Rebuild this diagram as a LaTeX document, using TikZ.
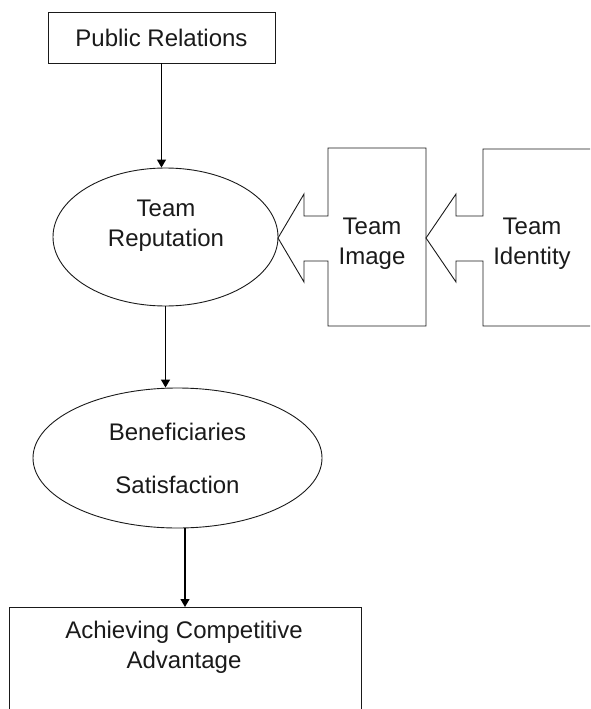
\documentclass[tikz,border=0pt]{standalone}
\usepackage{fontspec}
\setmainfont{Liberation Sans}
\usetikzlibrary{arrows.meta,shapes.geometric,calc}
\definecolor{ink}{HTML}{1A1A1A}
\begin{document}
\begin{tikzpicture}[x=1pt,y=-1pt,
  every node/.style={font=\fontsize{24}{30}\selectfont, text=ink},
  boxnode/.style={draw=ink, line width=0.9pt, rectangle, inner sep=0pt},
  ellnode/.style={draw=ink, line width=0.9pt, ellipse, inner sep=0pt},
  txt/.style={align=center, inner sep=0pt},
  arr/.style={draw=black, line width=1.2pt, -{Triangle[length=8pt,width=9pt]}},
  callout/.style={draw=ink, line width=0.9pt, line join=miter}]
\useasboundingbox (0,0) rectangle (590,709);
\clip (0,0) rectangle (590,709);

% Public Relations
\node[boxnode, minimum width=227pt, minimum height=51pt] (pr) at (161.5,37.5) {Public Relations};

% Team Reputation
\node[ellnode, minimum width=225pt, minimum height=138pt] (tr) at (165.5,237) {};
\node[txt] (trt) at (166,226) {Team\\Reputation};

% Team Image callout
\draw[callout] (278,238) -- (304,194) -- (304,216) -- (328,216) -- (328,148)
  -- (426,148) -- (426,326) -- (328,326) -- (328,261) -- (304,261) -- (304,282) -- cycle;
\node[txt] (img) at (372,244) {Team\\Image};

% Team Identity callout
\draw[callout] (426,238) -- (456,194) -- (456,216) -- (483,216) -- (483,149)
  -- (620,149) -- (620,326) -- (483,326) -- (483,261) -- (456,261) -- (456,282) -- cycle;
\node[txt] (idt) at (532,244) {Team\\Identity};

% Beneficiaries Satisfaction
\node[ellnode, minimum width=289pt, minimum height=140pt, align=center] (bs) at (177.5,458)
  {Beneficiaries\\[23pt]Satisfaction};

% Achieving Competitive Advantage
\node[boxnode, minimum width=352pt, minimum height=160pt, anchor=north] (aca) at (185,607) {};
\node[txt] (acat) at (184,647) {Achieving Competitive\\Advantage};

% connectors
\draw[arr] (pr.south) -- (pr.south |- tr.north);
\draw[arr] (tr.south) -- (tr.south |- bs.north);
\draw[arr] (bs.south -| aca.north) -- (aca.north);
\end{tikzpicture}
\end{document}
